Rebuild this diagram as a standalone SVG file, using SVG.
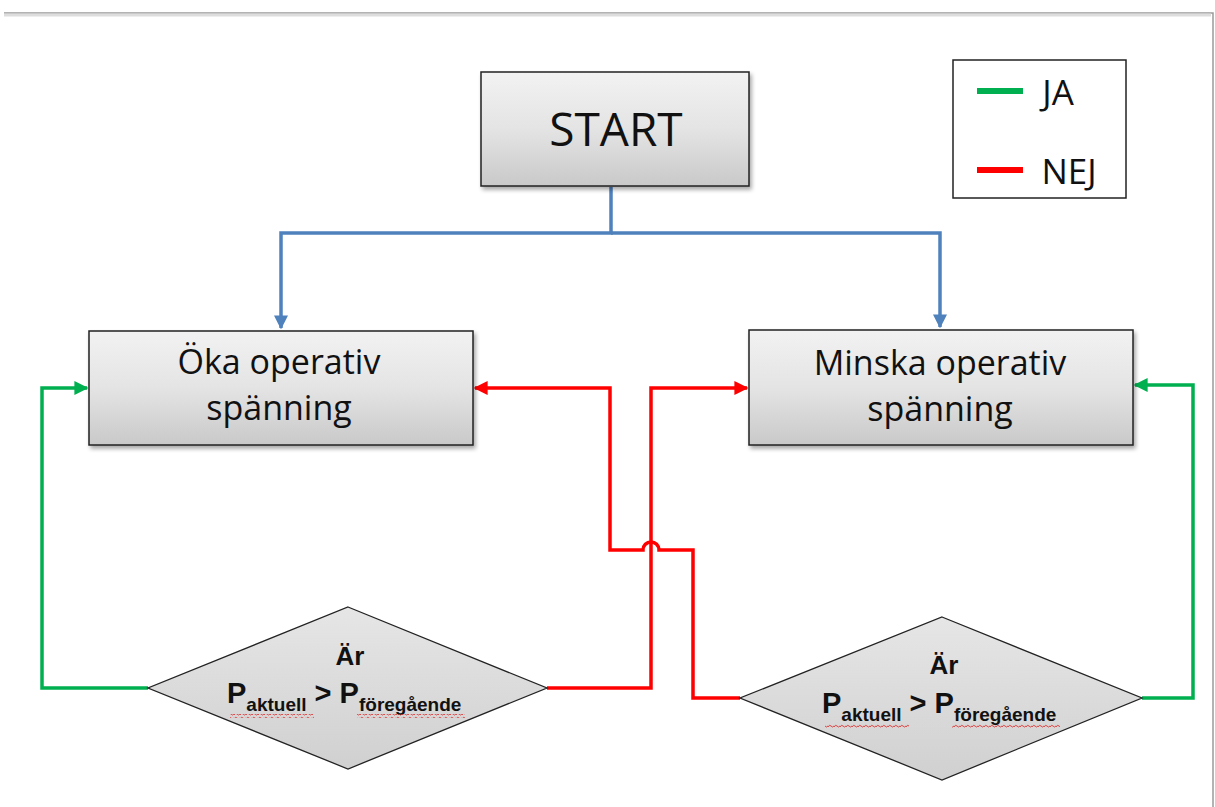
<svg xmlns="http://www.w3.org/2000/svg" width="1215" height="807" viewBox="0 0 1215 807">
<defs>
<linearGradient id="boxg" x1="0" y1="0" x2="0" y2="1">
<stop offset="0" stop-color="#f2f2f2"/>
<stop offset="0.5" stop-color="#e4e4e4"/>
<stop offset="1" stop-color="#c9c9c9"/>
</linearGradient>
<linearGradient id="diag" x1="0" y1="0" x2="0" y2="1">
<stop offset="0" stop-color="#e6e6e6"/>
<stop offset="1" stop-color="#d0d0d0"/>
</linearGradient>
<filter id="sh" x="-10%" y="-10%" width="130%" height="130%">
<feGaussianBlur in="SourceAlpha" stdDeviation="2"/>
<feOffset dx="2" dy="3" result="b"/>
<feComponentTransfer><feFuncA type="linear" slope="0.35"/></feComponentTransfer>
<feMerge><feMergeNode/><feMergeNode in="SourceGraphic"/></feMerge>
</filter>
<marker id="ab" viewBox="0 0 10 10" refX="9" refY="5" markerWidth="4" markerHeight="4" orient="auto" markerUnits="strokeWidth"><path d="M0,0 L10,5 L0,10 z" fill="#4f81bd"/></marker>
<marker id="ag" viewBox="0 0 10 10" refX="9" refY="5" markerWidth="4" markerHeight="4" orient="auto" markerUnits="strokeWidth"><path d="M0,0 L10,5 L0,10 z" fill="#00b050"/></marker>
<marker id="ar" viewBox="0 0 10 10" refX="9" refY="5" markerWidth="4" markerHeight="4" orient="auto" markerUnits="strokeWidth"><path d="M0,0 L10,5 L0,10 z" fill="#ff0000"/></marker>
<pattern id="wave" width="6" height="4" patternUnits="userSpaceOnUse"><path d="M0,3 Q1.5,0 3,2 T6,2" fill="none" stroke="#e03030" stroke-width="0.9"/></pattern>
</defs>
<style>
.box{fill:url(#boxg);stroke:#222;stroke-width:1.5;filter:url(#sh)}
.dia{fill:url(#diag);stroke:#222;stroke-width:1.3}
.t{font-family:"Open Sans","Liberation Sans",sans-serif;fill:#111;text-anchor:middle}
.b{font-family:"Liberation Sans",sans-serif;font-weight:bold;fill:#111}
.blue{fill:none;stroke:#4f81bd;stroke-width:3.5}
.green{fill:none;stroke:#00b050;stroke-width:3.5}
.red{fill:none;stroke:#ff0000;stroke-width:3.5}
</style>
<rect width="1215" height="807" fill="#ffffff"/>
<path d="M4,13 H1213 V807" fill="none" stroke="#9a9a9a" stroke-width="1.5"/>
<path d="M4,15 H1211" fill="none" stroke="#dddddd" stroke-width="3"/>

<g id="connectors">
<path class="blue" d="M611,187 V233 H281 V328" marker-end="url(#ab)"/>
<path class="blue" d="M611,233 H940 V327" marker-end="url(#ab)"/>
<path class="green" d="M148,688 H42 V388 H87" marker-end="url(#ag)"/>
<path class="green" d="M1142,698 H1193 V385 H1135" marker-end="url(#ag)"/>
<path class="red" d="M547,688 H651 V388 H747" marker-end="url(#ar)"/>
<path class="red" d="M740,698 H693 V550 H659 A8,8 0 0 0 643,550 H610 V388 H475" marker-end="url(#ar)"/>
</g>

<g id="start">
<rect class="box" x="481" y="72" width="268" height="114"/>
<text class="t" x="616" y="146" font-size="46">START</text>
</g>

<g id="oka">
<rect class="box" x="89" y="331" width="384" height="114"/>
<text class="t" x="279" y="374" font-size="34">Öka operativ</text>
<text class="t" x="279" y="420" font-size="34">spänning</text>
</g>

<g id="minska">
<rect class="box" x="749" y="330" width="384" height="115"/>
<text class="t" x="940" y="375" font-size="34">Minska operativ</text>
<text class="t" x="940" y="421" font-size="34">spänning</text>
</g>

<g id="dec-left">
<polygon class="dia" points="348,607 547,688 348,769 148,688"/>
<text class="b" x="350" y="665" font-size="26" text-anchor="middle">Är</text>
<text class="b" x="227" y="703" font-size="29">P<tspan font-size="19" dy="8">aktuell</tspan><tspan font-size="29" dy="-8"> &gt; P</tspan><tspan font-size="19" dy="8">föregående</tspan></text>
<rect x="230" y="714" width="84" height="4" fill="url(#wave)"/>
<rect x="357" y="714" width="108" height="4" fill="url(#wave)"/>
</g>

<g id="dec-right">
<polygon class="dia" points="942,617 1142,698 942,780 740,698"/>
<text class="b" x="944" y="674" font-size="26" text-anchor="middle">Är</text>
<text class="b" x="822" y="713" font-size="29">P<tspan font-size="19" dy="8">aktuell</tspan><tspan font-size="29" dy="-8"> &gt; P</tspan><tspan font-size="19" dy="8">föregående</tspan></text>
<rect x="825" y="724" width="84" height="4" fill="url(#wave)"/>
<rect x="952" y="724" width="108" height="4" fill="url(#wave)"/>
</g>

<g id="legend">
<rect x="953" y="60" width="173" height="138" fill="#ffffff" stroke="#222" stroke-width="1.5"/>
<line x1="977" y1="91" x2="1023" y2="91" stroke="#00b050" stroke-width="6"/>
<line x1="977" y1="170" x2="1023" y2="170" stroke="#ff0000" stroke-width="6"/>
<text class="t" x="1058" y="105" font-size="35">JA</text>
<text class="t" x="1069" y="184" font-size="35">NEJ</text>
</g>
</svg>
